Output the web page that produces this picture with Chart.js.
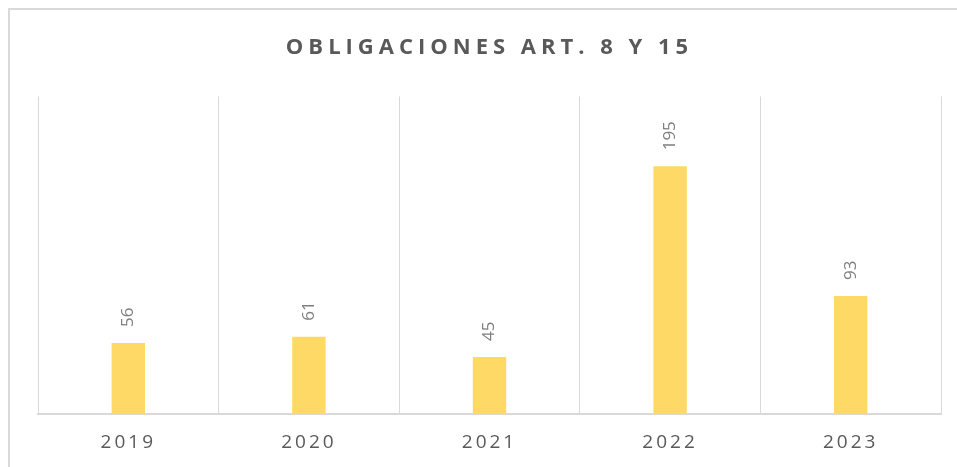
<!DOCTYPE html>
<html>
<head>
<meta charset="utf-8">
<script src="https://cdn.jsdelivr.net/npm/chart.js@4.4.0/dist/chart.umd.min.js"></script>
<style>
  html, body { margin: 0; padding: 0; background: #fff; }
  #wrap { width: 957px; height: 467px; }
</style>
</head>
<body>
<div id="wrap"><canvas id="chart" width="957" height="467"></canvas></div>
<script>
const years = ['2019', '2020', '2021', '2022', '2023']
const obligaciones = [56, 61, 45, 195, 93]
const chartTitle = 'OBLIGACIONES ART. 8 Y 15'

// outer frame + letter spacing for title and ticks
const framePlugin = {
  id: 'frame',
  beforeDraw(chart) {
    const ctx = chart.ctx
    ctx.save()
    ctx.strokeStyle = '#d9d9d9'
    ctx.lineWidth = 2
    ctx.strokeRect(9, 9, 1000, 500)
    ctx.restore()
    ctx.letterSpacing = '3px'

    // title gets wider spacing than the ticks
    const tb = chart.titleBlock
    if (tb && !tb._spaced) {
      const origDraw = tb.draw
      tb.draw = function () {
        this.ctx.letterSpacing = '5px'
        origDraw.apply(this, arguments)
        this.ctx.letterSpacing = '3px'
      }
      tb._spaced = true
    }
  }
}

// rotated value labels above the bars
const valueLabels = {
  id: 'valueLabels',
  afterDatasetsDraw(chart) {
    const ctx = chart.ctx
    const meta = chart.getDatasetMeta(0)
    ctx.save()
    ctx.letterSpacing = '0px'
    ctx.font = '17px "Open Sans"'
    ctx.fillStyle = '#7f7f7f'
    ctx.textAlign = 'left'
    ctx.textBaseline = 'middle'
    meta.data.forEach((bar, i) => {
      ctx.save()
      ctx.translate(bar.x, bar.y - 16)
      ctx.rotate(-Math.PI / 2)
      ctx.fillText(String(obligaciones[i]), 0, 0)
      ctx.restore()
    })
    ctx.restore()
  }
}

const ctx = document.getElementById('chart').getContext('2d')
const chartObligaciones = new Chart(ctx, {
  type: 'bar',
  data: {
    labels: years,
    datasets: [
      {
        label: 'Obligaciones',
        data: obligaciones,
        backgroundColor: '#FFD966',
        borderWidth: 0,
        categoryPercentage: 1,
        barPercentage: 0.185
      }
    ]
  },
  options: {
    responsive: false,
    animation: false,
    layout: {
      padding: { left: 38, right: 16, top: 0, bottom: -4 }
    },
    plugins: {
      legend: { display: false },
      tooltip: { enabled: false },
      title: {
        display: true,
        text: chartTitle,
        color: '#595959',
        font: { family: 'Open Sans', size: 22, weight: 'bold' },
        padding: { top: 35, bottom: 35 }
      }
    },
    scales: {
      x: {
        grid: {
          display: true,
          offset: true,
          color: '#d9d9d9',
          lineWidth: 1,
          drawTicks: false
        },
        border: { display: true, color: '#d9d9d9', width: 2 },
        ticks: {
          color: '#595959',
          font: { family: 'Open Sans', size: 19 },
          padding: 17
        }
      },
      y: {
        display: false,
        min: 0,
        max: 250
      }
    }
  },
  plugins: [framePlugin, valueLabels]
})
</script>
</body>
</html>
